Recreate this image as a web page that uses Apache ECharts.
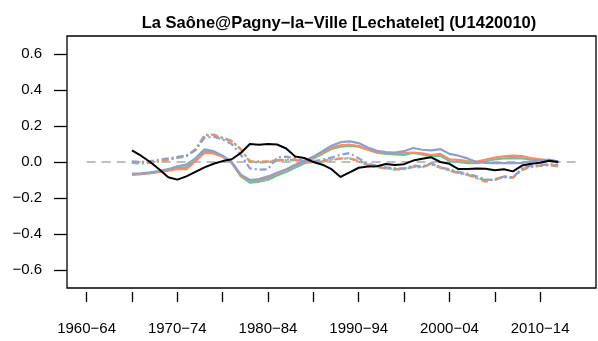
<!DOCTYPE html>
<html>
<head>
<meta charset="utf-8">
<script src="https://cdn.jsdelivr.net/npm/echarts@6/dist/echarts.min.js"></script>
<style>
  html, body { margin: 0; padding: 0; background: #ffffff; }
  #chart { width: 598px; height: 341px; }
</style>
</head>
<body>
<div id="chart"></div>
<script>
// Moving-window anomalies, one point per year of the window start
const years = [];
for (let y = 1965; y <= 2012; y++) years.push(y);

const observed = [
  0.064, 0.035, 0.000, -0.040, -0.085, -0.098, -0.080, -0.055, -0.030, -0.010,
  0.005, 0.015, 0.050, 0.100, 0.096, 0.100, 0.097, 0.075, 0.030, 0.022,
  0.000, -0.015, -0.040, -0.083, -0.058, -0.032, -0.025, -0.024, -0.011, -0.017,
  -0.012, 0.008, 0.018, 0.026, 0.000, -0.010, -0.039, -0.039, -0.036, -0.038,
  -0.046, -0.040, -0.052, -0.020, -0.010, -0.004, 0.007, 0.000
];

const greenSolid = [
  -0.072, -0.068, -0.062, -0.054, -0.045, -0.032, -0.028, 0.012, 0.060, 0.055,
  0.032, -0.005, -0.080, -0.115, -0.110, -0.098, -0.075, -0.055, -0.030, -0.008,
  0.020, 0.045, 0.072, 0.085, 0.090, 0.085, 0.068, 0.052, 0.045, 0.042,
  0.040, 0.050, 0.042, 0.030, 0.035, 0.005, 0.000, -0.006, -0.006, 0.003,
  0.015, 0.020, 0.022, 0.020, 0.015, 0.010, 0.005, 0.000
];
const orangeSolid = [
  -0.068, -0.066, -0.062, -0.055, -0.048, -0.040, -0.040, 0.005, 0.050, 0.048,
  0.030, -0.005, -0.075, -0.105, -0.100, -0.088, -0.065, -0.045, -0.020, 0.000,
  0.025, 0.050, 0.080, 0.092, 0.096, 0.088, 0.070, 0.055, 0.050, 0.048,
  0.050, 0.052, 0.048, 0.038, 0.045, 0.015, 0.012, 0.005, 0.003, 0.013,
  0.025, 0.031, 0.035, 0.033, 0.022, 0.015, 0.008, 0.003
];
const blueSolid = [
  -0.065, -0.063, -0.058, -0.050, -0.040, -0.024, -0.015, 0.020, 0.070, 0.060,
  0.035, 0.000, -0.070, -0.100, -0.095, -0.080, -0.060, -0.040, -0.015, 0.005,
  0.030, 0.060, 0.090, 0.110, 0.115, 0.105, 0.080, 0.062, 0.055, 0.052,
  0.060, 0.078, 0.068, 0.065, 0.072, 0.045, 0.035, 0.020, 0.000, -0.005,
  -0.006, -0.006, -0.006, -0.005, 0.003, 0.010, 0.013, 0.003
];

const greenDashed = [
  -0.005, -0.008, -0.005, 0.003, 0.012, 0.022, 0.032, 0.068, 0.150, 0.152,
  0.135, 0.118, 0.072, 0.000, -0.002, 0.000, 0.008, 0.010, 0.010, -0.003,
  -0.002, 0.002, 0.012, 0.018, 0.020, 0.003, -0.018, -0.028, -0.036, -0.042,
  -0.040, -0.028, -0.030, -0.012, -0.032, -0.048, -0.062, -0.072, -0.088, -0.100,
  -0.098, -0.085, -0.088, -0.045, -0.028, -0.022, -0.018, -0.025
];
const orangeDashed = [
  0.000, -0.005, -0.003, 0.005, 0.015, 0.025, 0.035, 0.070, 0.145, 0.150,
  0.130, 0.115, 0.070, 0.005, 0.003, 0.003, 0.010, 0.013, 0.013, 0.000,
  0.000, 0.005, 0.015, 0.020, 0.022, 0.005, -0.015, -0.025, -0.035, -0.040,
  -0.038, -0.025, -0.028, -0.010, -0.030, -0.045, -0.060, -0.070, -0.090, -0.110,
  -0.095, -0.082, -0.085, -0.040, -0.025, -0.020, -0.015, -0.020
];
const blueDashed = [
  0.003, 0.000, 0.005, 0.013, 0.020, 0.028, 0.035, 0.065, 0.135, 0.140,
  0.125, 0.100, 0.040, -0.035, -0.043, -0.040, 0.025, 0.030, 0.020, 0.005,
  0.005, 0.012, 0.025, 0.040, 0.050, 0.020, -0.010, -0.020, -0.030, -0.035,
  -0.035, -0.020, -0.024, -0.006, -0.030, -0.040, -0.055, -0.065, -0.080, -0.098,
  -0.100, -0.080, -0.085, -0.035, -0.020, -0.018, -0.012, -0.015
];

// Horizontal reference at zero across the period
const refYears = [1960, 2014];
const refValue = 0;

// Axis ticks and labels
const xTickYears = [1960, 1965, 1970, 1975, 1980, 1985, 1990, 1995, 2000, 2005, 2010];
const xLabelYears = [1960, 1970, 1980, 1990, 2000, 2010];
const xLabelText = ['1960\u221264', '1970\u221274', '1980\u221284', '1990\u221294', '2000\u221204', '2010\u221214'];
const yTickValues = [-0.6, -0.4, -0.2, 0, 0.2, 0.4, 0.6];

const GREEN = '#66C2A5', ORANGE = '#FC8D62', BLUE = '#8DA0CB';
const FONT = 'Liberation Sans, Arial, Helvetica, sans-serif';

const pairs = vals => years.map((y, i) => [y, vals[i]]);

function line(name, vals, color, width, type, z) {
  return {
    name, type: 'line', data: pairs(vals), symbol: 'none', z,
    lineStyle: { color, width, type },
    emphasis: { disabled: true }, animation: false
  };
}

const dashPattern = [7, 3, 2, 3];

const chart = echarts.init(document.getElementById('chart'), null, { renderer: 'canvas' });
chart.setOption({
  animation: false,
  title: {
    text: 'La Saône@Pagny\u2212la\u2212Ville [Lechatelet] (U1420010)',
    left: 334, top: 10, textAlign: 'center',
    textStyle: { fontFamily: FONT, fontWeight: 'bold', fontSize: 16.5, color: '#000' }
  },
  grid: {
    left: 67, right: 2, top: 36, bottom: 53,
    show: true, borderColor: '#000', borderWidth: 1.3, backgroundColor: 'transparent'
  },
  xAxis: {
    type: 'value', min: 1957.84, max: 2016.16,
    offset: 4,
    axisLine: { show: false, onZero: false },
    splitLine: { show: false },
    axisTick: { show: true, length: 10, customValues: xTickYears, lineStyle: { color: '#000', width: 1.3 } },
    axisLabel: {
      customValues: xLabelYears, margin: 29,
      formatter: v => xLabelText[xLabelYears.indexOf(Math.round(v))] || '',
      fontFamily: FONT, fontSize: 15, color: '#000'
    }
  },
  yAxis: {
    type: 'value', min: -0.7, max: 0.7,
    axisLine: { show: false, onZero: false },
    splitLine: { show: false },
    axisTick: { show: true, length: 13, customValues: yTickValues, lineStyle: { color: '#000', width: 1.3 } },
    axisLabel: {
      customValues: yTickValues, margin: 25,
      formatter: v => (v < 0 ? '\u2212' : '') + Math.abs(v).toFixed(1),
      fontFamily: FONT, fontSize: 15, color: '#000'
    }
  },
  series: [
    {
      name: 'reference', type: 'line', symbol: 'none', z: 1,
      data: refYears.map(y => [y, refValue]),
      lineStyle: { color: '#BEBEBE', width: 1.8, type: [9, 6] },
      emphasis: { disabled: true }, animation: false
    },
    line('green dashed', greenDashed, GREEN, 2.2, dashPattern, 2),
    line('orange dashed', orangeDashed, ORANGE, 2.2, dashPattern, 2),
    line('blue dashed', blueDashed, BLUE, 2.2, dashPattern, 2),
    line('green', greenSolid, GREEN, 2.2, 'solid', 3),
    line('orange', orangeSolid, ORANGE, 2.2, 'solid', 3),
    line('blue', blueSolid, BLUE, 2.2, 'solid', 3),
    line('observed', observed, '#000000', 2, 'solid', 4)
  ]
});
</script>
</body>
</html>
